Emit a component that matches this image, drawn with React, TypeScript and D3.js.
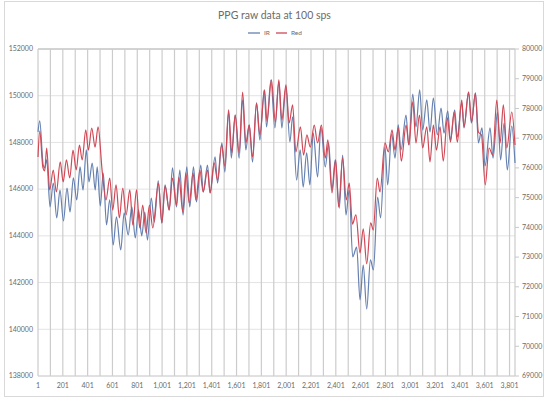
import React from "react";
import * as d3 from "d3";

const width = 548;
const height = 398;
const plot = { left: 38, right: 515, top: 49, bottom: 376 };

// sample index (x) and reading (y) at each turning point
const irSample = [
  1, 15, 43, 55, 71, 98, 124, 152, 178, 206, 235, 259, 286, 313, 340, 364, 390, 412, 438, 462,
  478, 503, 527, 553, 579, 607, 633, 668, 695, 728, 757, 785, 811, 837, 862, 883, 914, 938, 970, 999,
  1025, 1058, 1085, 1117, 1144, 1170, 1200, 1224, 1254, 1278, 1313, 1333, 1367, 1388, 1428, 1448, 1483, 1507, 1537, 1559,
  1590, 1622, 1650, 1676, 1703, 1730, 1762, 1789, 1824, 1843, 1878, 1910, 1942, 1966, 1999, 2031, 2053, 2085, 2114, 2138,
  2166, 2192, 2219, 2254, 2281, 2316, 2343, 2370, 2396, 2429, 2456, 2483, 2509, 2537, 2569, 2596, 2622, 2650, 2680, 2704,
  2738, 2762, 2797, 2819, 2851, 2878, 2904, 2926, 2967, 2988, 3021, 3047, 3077, 3101, 3134, 3160, 3187, 3219, 3249, 3273,
  3303, 3325, 3359, 3380, 3416, 3434, 3471, 3493, 3527, 3550, 3579, 3604, 3644, 3668, 3704, 3729, 3757, 3783, 3819, 3845,
];
const irValue = [
  148450, 148920, 147030, 146910, 147250, 145240, 146260, 144770, 145960, 144640,
  146050, 145020, 146480, 145540, 146950, 145960, 147680, 146310, 147120, 145960,
  146950, 145280, 146690, 144470, 145540, 143610, 144810, 143400, 144980, 144040,
  145240, 143910, 145110, 144000, 145020, 143820, 145620, 144590, 146350, 144550,
  146180, 145110, 146910, 145240, 146820, 144890, 146950, 145240, 146950, 145450,
  147030, 145880, 147030, 145840, 147380, 146260, 147980, 146730, 149300, 147330,
  149170, 147330, 149820, 147680, 148750, 147160, 149690, 148100, 150250, 148660,
  150670, 148620, 150590, 148620, 150370, 148020, 149090, 146390, 147680, 146090,
  147550, 146180, 148400, 146520, 148660, 146950, 147980, 145960, 147250, 145190,
  147460, 144890, 145960, 143100, 143520, 141260, 142750, 140870, 142970, 142540,
  145660, 144770, 147800, 146180, 148360, 147330, 148750, 147680, 149170, 147890,
  150070, 148660, 150250, 148530, 149820, 148450, 149900, 148320, 149470, 148400,
  149350, 148100, 149390, 148230, 149690, 148620, 150160, 148830, 150120, 147980,
  148620, 146990, 148620, 147330, 149300, 147250, 148830, 146820, 148700, 147120,
];

const redSample = [
  1, 15, 41, 55, 71, 95, 124, 149, 180, 204, 230, 257, 283, 309, 335, 357, 386, 407, 434, 461,
  485, 519, 549, 579, 603, 630, 657, 684, 711, 741, 765, 795, 821, 845, 872, 899, 926, 972, 999, 1025,
  1058, 1085, 1116, 1136, 1168, 1192, 1220, 1251, 1273, 1305, 1332, 1367, 1388, 1420, 1448, 1480, 1507, 1537, 1563, 1590,
  1622, 1650, 1676, 1703, 1730, 1762, 1789, 1827, 1846, 1882, 1914, 1942, 1966, 1999, 2025, 2053, 2079, 2116, 2141, 2168,
  2195, 2227, 2254, 2285, 2316, 2337, 2370, 2400, 2424, 2456, 2485, 2509, 2535, 2563, 2596, 2622, 2650, 2682, 2703, 2735,
  2757, 2797, 2824, 2854, 2878, 2904, 2929, 2967, 2991, 3021, 3047, 3075, 3101, 3134, 3160, 3187, 3212, 3241, 3267, 3300,
  3325, 3354, 3380, 3416, 3434, 3471, 3496, 3525, 3550, 3575, 3605, 3636, 3666, 3698, 3725, 3751, 3779, 3819, 3845,
];
const redValue = [
  76370, 77240, 76000, 75900, 76670, 75260, 75930, 75190, 76200, 75530,
  76270, 75660, 76600, 75930, 76770, 76270, 77280, 76600, 77340, 76700,
  77380, 75860, 74920, 75660, 74580, 75430, 74320, 75320, 74420, 75260,
  74080, 75260, 73980, 74750, 73810, 74750, 73980, 75490, 74150, 75390,
  74580, 75660, 74750, 75690, 74520, 75830, 74820, 75830, 74920, 75930,
  75190, 75930, 75160, 76170, 75590, 76770, 76060, 77950, 76500, 77780,
  76500, 78550, 76840, 77440, 76370, 78180, 77110, 78620, 77580, 78960,
  77540, 78960, 77610, 78790, 77510, 78120, 76540, 77380, 76430, 77110,
  76700, 77440, 76840, 77440, 76330, 76940, 75160, 76270, 74690, 76330,
  74920, 75490, 74110, 74420, 73140, 73950, 72770, 74150, 73910, 75660,
  75190, 76840, 76540, 77280, 76600, 77340, 76230, 77440, 76770, 78220,
  76840, 77780, 76670, 77380, 76200, 77440, 76600, 77380, 76230, 77680,
  76870, 77880, 76870, 78280, 77380, 78550, 77540, 78520, 77210, 77110,
  75430, 76670, 76430, 78280, 76840, 78120, 76670, 77880, 76770,
];

const leftTicks = [138000, 140000, 142000, 144000, 146000, 148000, 150000, 152000];
const rightTicks = [69000, 70000, 71000, 72000, 73000, 74000, 75000, 76000, 77000, 78000, 79000, 80000];
const xLabels = [1, 201, 401, 601, 801, 1001, 1201, 1401, 1601, 1801, 2001, 2201, 2401, 2601, 2801, 3001, 3201, 3401, 3601, 3801];
const lastSample = 3845;

const irColor = "#6681b0";
const redColor = "#d04856";
const textColor = "#6b6b6b";
const font = "Lato, 'Liberation Sans', sans-serif";

const App = () => {
  const x = d3.scaleLinear().domain([1, lastSample]).range([plot.left, plot.right]);
  const yLeft = d3.scaleLinear().domain([138000, 152000]).range([plot.bottom, plot.top]);
  const yRight = d3.scaleLinear().domain([69000, 80000]).range([plot.bottom, plot.top]);

  const irLine = d3
    .line<number>()
    .x((d, i) => x(irSample[i]))
    .y((d) => yLeft(d))
    .curve(d3.curveMonotoneX);
  const redLine = d3
    .line<number>()
    .x((d, i) => x(redSample[i]))
    .y((d) => yRight(d))
    .curve(d3.curveMonotoneX);

  // vertical gridlines every 100 samples
  const gridSamples = d3.range(1, lastSample, 100);

  return (
    <svg
      width={width}
      height={height}
      style={{ position: "absolute", left: 0, top: 0, background: "#fff" }}
      fontFamily={font}
    >
      <rect x={4.5} y={1.5} width={539} height={395} fill="#fff" stroke="#d9d9d9" />

      {leftTicks.map((t) => (
        <line
          key={"h" + t}
          x1={plot.left}
          x2={plot.right}
          y1={yLeft(t)}
          y2={yLeft(t)}
          stroke={t === 152000 ? "#a6a6a6" : "#e3e3e3"}
          strokeWidth={1}
        />
      ))}
      {gridSamples.map((s) => (
        <line
          key={"v" + s}
          x1={x(s)}
          x2={x(s)}
          y1={plot.top}
          y2={plot.bottom}
          stroke="#cccccc"
          strokeWidth={1.2}
        />
      ))}
      <line x1={plot.right} x2={plot.right} y1={plot.top} y2={plot.bottom} stroke="#cccccc" strokeWidth={1.2} />
      <line x1={plot.left} x2={plot.right} y1={plot.bottom} y2={plot.bottom} stroke="#d0d0d0" />

      {rightTicks.map((t) => (
        <line key={"rt" + t} x1={plot.right} x2={plot.right + 4} y1={yRight(t)} y2={yRight(t)} stroke="#c8c8c8" />
      ))}

      <path d={irLine(irValue) ?? ""} fill="none" stroke={irColor} strokeWidth={1.2} strokeLinejoin="round" />
      <path d={redLine(redValue) ?? ""} fill="none" stroke={redColor} strokeWidth={1.2} strokeLinejoin="round" />

      {leftTicks.map((t) => (
        <text key={"lt" + t} x={33} y={yLeft(t)} dy="0.32em" textAnchor="end" fontSize={7} fill={textColor}>
          {t}
        </text>
      ))}
      {rightTicks.map((t) => (
        <text key={"rl" + t} x={522} y={yRight(t)} dy="0.32em" textAnchor="start" fontSize={7} fill={textColor}>
          {t}
        </text>
      ))}
      {xLabels.map((s) => (
        <text key={"xl" + s} x={x(s)} y={386} dy="0.32em" textAnchor="middle" fontSize={7} fill={textColor}>
          {d3.format(",")(s)}
        </text>
      ))}

      <text x={274.5} y={15} dy="0.35em" textAnchor="middle" fontSize={10.5} fill={textColor}>
        PPG raw data at 100 sps
      </text>

      <line x1={248} x2={260} y1={33} y2={33} stroke={irColor} strokeWidth={1.3} />
      <text x={264} y={33} dy="0.32em" fontSize={6.5} fill={textColor}>
        IR
      </text>
      <line x1={276} x2={287} y1={33} y2={33} stroke={redColor} strokeWidth={1.3} />
      <text x={291} y={33} dy="0.32em" fontSize={6.5} fill={textColor}>
        Red
      </text>
    </svg>
  );
};

export default App;
